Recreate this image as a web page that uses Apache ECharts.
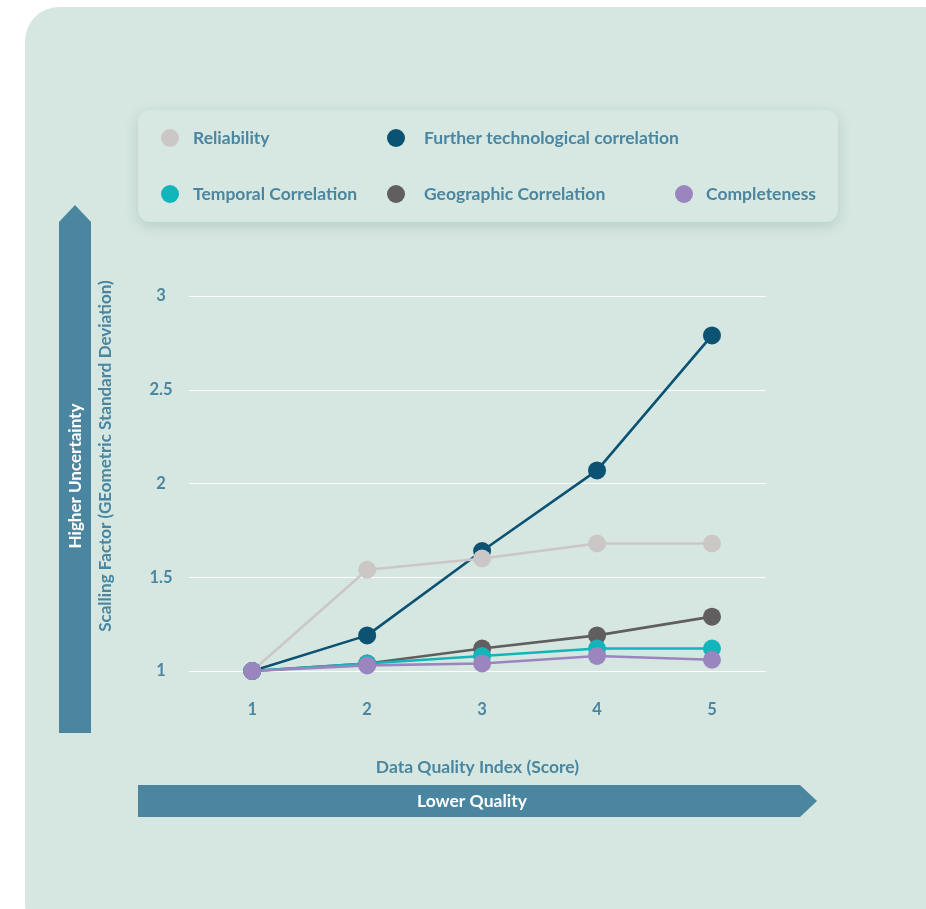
<!DOCTYPE html>
<html>
<head>
<meta charset="utf-8">
<script src="https://cdn.jsdelivr.net/npm/echarts@6/dist/echarts.min.js"></script>
<style>
html,body{margin:0;padding:0;background:#ffffff;}
#chart{width:926px;height:909px;}
</style>
</head>
<body>
<div id="chart"></div>
<script>
// ---- data ----
var scores = [1, 2, 3, 4, 5];
var reliability = [1.00, 1.54, 1.60, 1.68, 1.68];
var furtherTech = [1.00, 1.19, 1.64, 2.07, 2.79];
var temporal = [1.00, 1.04, 1.08, 1.12, 1.12];
var geographic = [1.00, 1.04, 1.12, 1.19, 1.29];
var completeness = [1.00, 1.03, 1.04, 1.08, 1.06];
var yTicks = [1, 1.5, 2, 2.5, 3];

var TXT = '#4a86a0';
var FONT = 'Lato';

function pairs(vals){ return scores.map(function(s,i){ return [s, vals[i]]; }); }

var seriesDefs = [
  {name:'Further technological correlation', data:furtherTech, color:'#0b5273'},
  {name:'Reliability', data:reliability, color:'#ccc7c7'},
  {name:'Geographic Correlation', data:geographic, color:'#605e5f'},
  {name:'Temporal Correlation', data:temporal, color:'#12b5ba'},
  {name:'Completeness', data:completeness, color:'#9a85bf'}
];

var series = seriesDefs.map(function(d){
  return {
    name:d.name, type:'line', data:pairs(d.data),
    symbol:'circle', symbolSize:18, showSymbol:true,
    lineStyle:{color:d.color, width:2.6},
    itemStyle:{color:d.color},
    emphasis:{disabled:true},
    animation:false
  };
});

function legendItem(name, left, top, gap){
  return {
    data:[name], left:left, top:top, padding:0,
    icon:'circle', itemWidth:18, itemHeight:18,
    textStyle:{color:TXT, fontFamily:FONT, fontSize:17.5, fontWeight:'bold', padding:[0,0,0,gap]},
    selectedMode:false
  };
}

var chart = echarts.init(document.getElementById('chart'), null, {renderer:'canvas'});
chart.setOption({
  backgroundColor:'#ffffff',
  animation:false,
  graphic:[
    {type:'rect', z:-10, shape:{x:25, y:7, width:930, height:930, r:34}, style:{fill:'#d6e7e1'}},
    {type:'rect', z:-5, shape:{x:138, y:110, width:700, height:112, r:12},
      style:{fill:'#d7e8e2', shadowColor:'rgba(40,90,80,0.18)', shadowBlur:14, shadowOffsetY:4}},
    {type:'polygon', z:-5, shape:{points:[[59,733],[59,222],[75,205],[91,222],[91,733]]}, style:{fill:'#4b86a0'}},
    {type:'text', z:-4, x:76, y:476, rotation:Math.PI/2,
      style:{text:'Higher Uncertainty', fill:'#ffffff', font:'bold 17px Lato', textAlign:'center', textVerticalAlign:'middle'}},
    {type:'polygon', z:-5, shape:{points:[[138,785],[800,785],[817,801],[800,817],[138,817]]}, style:{fill:'#4b86a0'}},
    {type:'text', z:-4, x:472, y:801,
      style:{text:'Lower Quality', fill:'#ffffff', font:'bold 17.5px Lato', textAlign:'center', textVerticalAlign:'middle'}},
    {type:'text', z:-4, x:106, y:456, rotation:Math.PI/2,
      style:{text:'Scalling Factor (GEometric Standard Deviation)', fill:TXT, font:'bold 17px Lato', textAlign:'center', textVerticalAlign:'middle'}}
  ],
  legend:[
    legendItem('Reliability', 161, 129, 9),
    legendItem('Further technological correlation', 387, 129, 14),
    legendItem('Temporal Correlation', 161, 185, 9),
    legendItem('Geographic Correlation', 387, 185, 14),
    legendItem('Completeness', 675, 185, 8)
  ],
  grid:{left:189, right:160, top:296, bottom:238, containLabel:false},
  xAxis:{
    type:'value', min:0.45, max:5.47,
    axisLine:{show:false}, axisTick:{show:false}, splitLine:{show:false},
    axisLabel:{customValues:scores, color:TXT, fontFamily:FONT, fontSize:16.5, fontWeight:'bold', margin:30},
    name:'Data Quality Index (Score)', nameLocation:'middle', nameGap:87,
    nameTextStyle:{color:TXT, fontFamily:FONT, fontSize:17.5, fontWeight:'bold'}
  },
  yAxis:{
    type:'value', min:1, max:3, interval:0.5,
    axisLine:{show:false}, axisTick:{show:false},
    splitLine:{lineStyle:{color:'#ffffff', width:1.2}},
    axisLabel:{color:TXT, fontFamily:FONT, fontSize:16.5, fontWeight:'bold', margin:28, align:'center'}
  },
  series:series
});
</script>
</body>
</html>
